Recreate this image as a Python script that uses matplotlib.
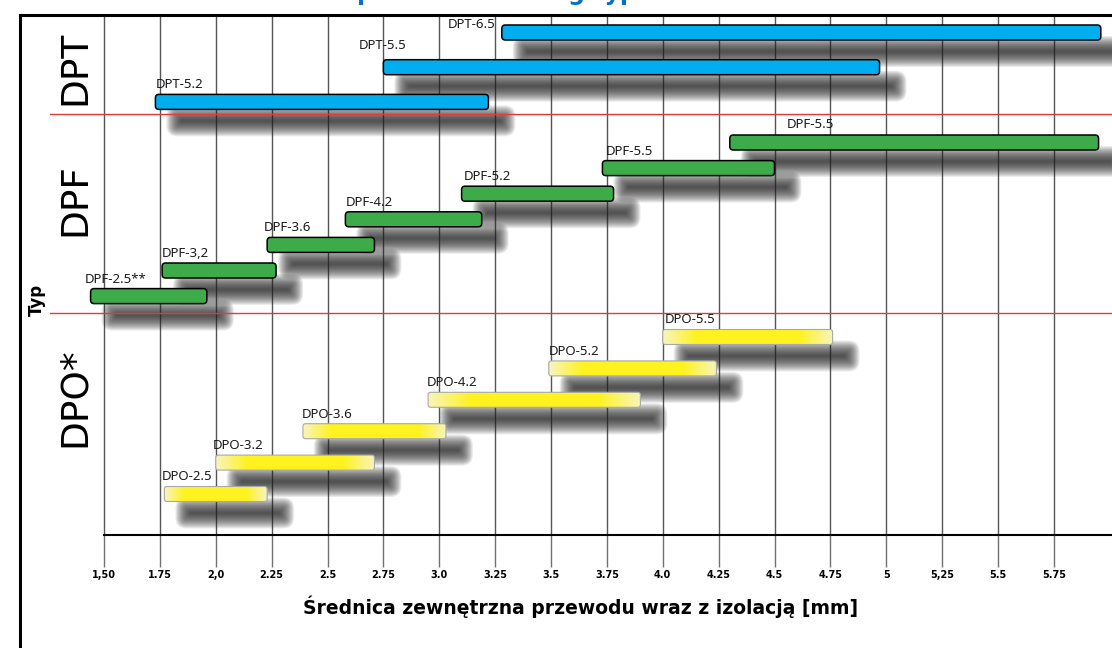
import numpy as np
import matplotlib
matplotlib.use("Agg")
import matplotlib.pyplot as plt
from matplotlib.patches import FancyBboxPatch
from matplotlib.lines import Line2D

# data: diameter ranges per product, top to bottom
groups = ['DPT', 'DPF', 'DPO*']
bar_group = [0, 0, 0, 1, 1, 1, 1, 1, 1, 1, 2, 2, 2, 2, 2, 2]
bar_names = ['DPT-6.5', 'DPT-5.5', 'DPT-5.2',
             'DPF-5.5', 'DPF-5.5', 'DPF-5.2', 'DPF-4.2', 'DPF-3.6', 'DPF-3,2', 'DPF-2.5**',
             'DPO-5.5', 'DPO-5.2', 'DPO-4.2', 'DPO-3.6', 'DPO-3.2', 'DPO-2.5']
d_min = [3.28, 2.75, 1.73, 4.30, 3.73, 3.10, 2.58, 2.23, 1.76, 1.44, 4.00, 3.49, 2.95, 2.39, 2.00, 1.77]
d_max = [5.96, 4.97, 3.22, 5.95, 4.50, 3.78, 3.19, 2.71, 2.27, 1.96, 4.76, 4.24, 3.90, 3.03, 2.71, 2.23]
tick_vals = [1.5, 1.75, 2.0, 2.25, 2.5, 2.75, 3.0, 3.25, 3.5, 3.75, 4.0, 4.25, 4.5, 4.75, 5.0, 5.25, 5.5, 5.75]
tick_labels = ['1,50', '1.75', '2,0', '2.25', '2.5', '2.75', '3.0', '3.25', '3.5', '3.75',
               '4.0', '4.25', '4.5', '4.75', '5', '5,25', '5.5', '5.75']
title = 'Dobór produktu według typu'
xlabel = 'Średnica zewnętrzna przewodu wraz z izolacją [mm]'
ylabel = 'Typ'

# layout (pixels)
W, H = 1112, 648
AX_L, AX_R, AX_T, AX_B = 50, 1112, 15, 535
X0_PX, PPU = 104, 223.5          # pixel of 1.5 mm, pixels per mm
group_y0 = [32.5, 142.5, 337]
group_dy = [34.7, 25.6, 31.4]
group_label_y = [68, 200, 397]
sep_y = [114, 313]
BAR_H = 15
label_dx = [-54, -25, 0, 57, 3, 2, 0, -3, 0, -6, 2, 0, -1, -1, -3, -3]
label_dy = [4.5, 18.5, 13.5, 14.5, 13.5, 13.5, 13.5, 13.5, 13.5, 13.5, 13.5, 13.5, 13.5, 13.5, 13.5, 13.5]

face = ['#00adef', '#3dab4a', None]
edge = ['black', 'black', '#a8a8a8']

fig = plt.figure(figsize=(W / 100, H / 100), dpi=100)
ax = fig.add_axes([AX_L / W, 1 - AX_B / H, (AX_R - AX_L) / W, (AX_B - AX_T) / H])
xlim = (1.5 - (X0_PX - AX_L) / PPU, 1.5 + (AX_R - X0_PX) / PPU)

t = np.linspace(0, 1, 200)
w = np.clip(np.minimum(t, 1 - t) / 0.2, 0, 1)
light = np.array([0.97, 0.96, 0.74])
bright = np.array([1.0, 0.95, 0.12])
grad = (light[None, :] * (1 - w[:, None]) + bright[None, :] * w[:, None])[None, :, :]

def rbox(x, y, wd, ht, r_px, **kw):
    r_px = min(r_px, ht / 2 - 0.2)
    return FancyBboxPatch((x, y), wd, ht, boxstyle=f"round,pad=0,rounding_size={r_px / PPU}",
                          mutation_aspect=PPU, **kw)

count = [0, 0, 0]
for i, name in enumerate(bar_names):
    g = bar_group[i]
    yc = group_y0[g] + count[g] * group_dy[g]
    count[g] += 1
    x0, x1 = d_min[i], d_max[i]

    # blurred drop shadow
    for d in np.linspace(-6, 8, 15):
        ax.add_patch(rbox(x0 + (19 - d) / PPU, yc + 19 - BAR_H / 2 - d,
                          x1 - x0 + 2 * d / PPU, BAR_H + 2 * d, 3 + max(d, 0),
                          facecolor='#202020', edgecolor='none', alpha=0.085, zorder=1))

    if face[g] is not None:
        ax.add_patch(rbox(x0, yc - BAR_H / 2, x1 - x0, BAR_H, 3.5,
                          facecolor=face[g], edgecolor=edge[g], lw=1.1, zorder=3))
    else:
        p = rbox(x0, yc - BAR_H / 2, x1 - x0, BAR_H, 2.5,
                 facecolor='none', edgecolor=edge[g], lw=0.8, zorder=4)
        ax.add_patch(p)
        im = ax.imshow(grad, extent=(x0, x1, yc + BAR_H / 2, yc - BAR_H / 2),
                       aspect='auto', interpolation='bilinear', zorder=3)
        im.set_clip_path(p)

    ax.text(x0 + label_dx[i] / PPU, yc - label_dy[i], name, fontsize=9.5, family='Noto Sans',
            color='#1a1a1a', ha='left', va='baseline', zorder=5)

for y in sep_y:
    ax.axhline(y, color='#e03a3a', lw=1.0, zorder=2)

for g, lab in enumerate(groups):
    ax.text(1.5 + (75 - X0_PX) / PPU, group_label_y[g], lab, rotation=90, fontsize=27,
            ha='center', va='center', color='black')

ax.set_xlim(*xlim)
ax.set_ylim(AX_B, AX_T)
ax.set_xticks(tick_vals)
ax.set_xticklabels(tick_labels, fontweight='bold', fontsize=7)
ax.set_yticks([])
ax.tick_params(axis='x', length=23, width=1.0, color='#707070', pad=2)
ax.set_axisbelow(True)
ax.grid(axis='x', color='#555555', lw=1.0)
for s in ['top', 'left', 'right']:
    ax.spines[s].set_visible(False)
ax.spines['bottom'].set_bounds(1.5, xlim[1])
ax.spines['bottom'].set_linewidth(1.5)

ax.set_xlabel(xlabel, fontsize=13.5, fontweight='bold')
ax.xaxis.set_label_coords(0.5, (AX_B - 607) / (AX_B - AX_T))
ax.xaxis.label.set_verticalalignment('center')
ax.set_ylabel(ylabel, fontsize=12, fontweight='bold')
ax.yaxis.set_label_coords((37 - AX_L) / (AX_R - AX_L), (AX_B - 300) / (AX_B - AX_T))
ax.yaxis.label.set_verticalalignment('center')

# outer frame and the title, which the reference shows cut off at the top edge
fig.add_artist(Line2D([19.5 / W, 19.5 / W], [0, 1 - AX_T / H], color='black', lw=2.2,
                      transform=fig.transFigure))
fig.add_artist(Line2D([19.5 / W, 1], [1 - AX_T / H, 1 - AX_T / H], color='black', lw=2.2,
                      transform=fig.transFigure))
fig.text(461 / W, 1.0, title, fontsize=17, fontweight='bold', color='#0a6fc2',
         ha='center', va='baseline')

fig.savefig('out.png', dpi=100)
